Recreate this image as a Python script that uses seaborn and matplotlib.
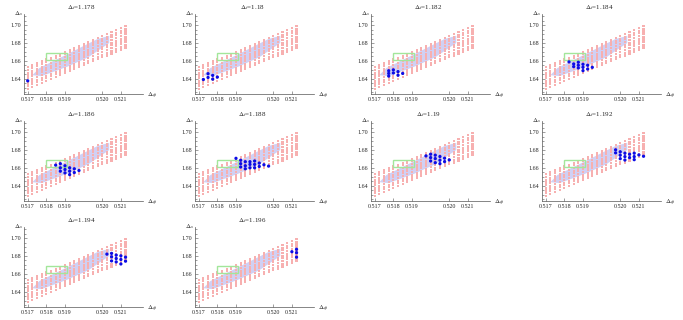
import matplotlib
matplotlib.use("Agg")
import matplotlib.pyplot as plt
import seaborn as sns
import numpy as np
import pandas as pd

# panel values of Delta_t
dt_labels = ["1.178", "1.18", "1.182", "1.184", "1.186",
             "1.188", "1.19", "1.192", "1.194", "1.196"]

# scanned grid (red): one column per Delta_phi, points stepped in Delta_s
dphi_cols = [0.5170, 0.5172, 0.5174, 0.5176, 0.5178, 0.5180, 0.5182, 0.5184,
             0.5186, 0.5188, 0.5190, 0.5192, 0.5194, 0.5196, 0.5198, 0.5200,
             0.5202, 0.5204, 0.5206, 0.5208, 0.5210, 0.5212]
ds_col_bottom = [1.6287, 1.6309, 1.6331, 1.6353, 1.6375, 1.6397, 1.6419, 1.6441,
                 1.6463, 1.6485, 1.6507, 1.6529, 1.6551, 1.6573, 1.6595, 1.6617,
                 1.6639, 1.6661, 1.6683, 1.6705, 1.6727, 1.6749]
n_per_col = 9
ds_step = 0.003

# lavender band
band_dphi = [0.5172, 0.5175, 0.5187, 0.5200, 0.5205, 0.5205, 0.5196, 0.5187, 0.5176]
band_ds = [1.6440, 1.6520, 1.6675, 1.6845, 1.6880, 1.6800, 1.6640, 1.6535, 1.6430]

# green box
box_dphi = [0.5178, 0.5187]
box_ds = [1.661, 1.669]

# allowed points (blue), long form
allowed_dt = (["1.178"] +
              ["1.18"] * 6 +
              ["1.182"] * 8 +
              ["1.184"] * 12 +
              ["1.186"] * 13 +
              ["1.188"] * 17 +
              ["1.19"] * 13 +
              ["1.192"] * 15 +
              ["1.194"] * 12 +
              ["1.196"] * 4)
allowed_dphi = ([0.5170] +
                [0.5172, 0.5174, 0.5174, 0.5176, 0.5176, 0.5178] +
                [0.5176, 0.5176, 0.5176, 0.5178, 0.5178, 0.5180, 0.5180, 0.5182] +
                [0.5180, 0.5182, 0.5182, 0.5184, 0.5184, 0.5184, 0.5186, 0.5186, 0.5186, 0.5188, 0.5188, 0.5190] +
                [0.5182, 0.5184, 0.5184, 0.5184, 0.5186, 0.5186, 0.5186, 0.5188, 0.5188, 0.5188, 0.5190, 0.5190, 0.5192] +
                [0.5186, 0.5188, 0.5188, 0.5188, 0.5190, 0.5190, 0.5190, 0.5192, 0.5192, 0.5192, 0.5194, 0.5194, 0.5194,
                 0.5196, 0.5196, 0.5198, 0.5200] +
                [0.5192, 0.5194, 0.5194, 0.5194, 0.5196, 0.5196, 0.5196, 0.5198, 0.5198, 0.5198, 0.5200, 0.5200, 0.5202] +
                [0.5200, 0.5200, 0.5202, 0.5202, 0.5202, 0.5204, 0.5204, 0.5204, 0.5206, 0.5206, 0.5208, 0.5208, 0.5208,
                 0.5210, 0.5212] +
                [0.5204, 0.5206, 0.5206, 0.5206, 0.5208, 0.5208, 0.5208, 0.5210, 0.5210, 0.5210, 0.5212, 0.5212] +
                [0.5210, 0.5212, 0.5212, 0.5212])
allowed_ds = ([1.6377] +
              [1.6392, 1.6457, 1.6415, 1.6438, 1.6396, 1.6419] +
              [1.6490, 1.6460, 1.6430, 1.6500, 1.6465, 1.6480, 1.6440, 1.6460] +
              [1.6589, 1.6566, 1.6536, 1.6585, 1.6551, 1.6521, 1.6562, 1.6528, 1.6491, 1.6551, 1.6509, 1.6528] +
              [1.6631, 1.6647, 1.6601, 1.6563, 1.6624, 1.6582, 1.6544, 1.6601, 1.6563, 1.6525, 1.6590, 1.6548, 1.6571] +
              [1.6707, 1.6685, 1.6647, 1.6610, 1.6669, 1.6624, 1.6590, 1.6669, 1.6639, 1.6601, 1.6677, 1.6639, 1.6601,
               1.6654, 1.6616, 1.6635, 1.6620] +
              [1.6734, 1.6753, 1.6715, 1.6677, 1.6742, 1.6704, 1.6658, 1.6727, 1.6685, 1.6647, 1.6708, 1.6670, 1.6689] +
              [1.6802, 1.6768, 1.6780, 1.6742, 1.6703, 1.6764, 1.6726, 1.6688, 1.6753, 1.6715, 1.6764, 1.6726, 1.6692,
               1.6745, 1.6730] +
              [1.6821, 1.6829, 1.6791, 1.6745, 1.6810, 1.6772, 1.6734, 1.6802, 1.6761, 1.6711, 1.6787, 1.6742] +
              [1.6848, 1.6875, 1.6837, 1.6787])

# tick marks sit where the reference draws them (uneven spacing there)
x_tick_pos = [0.5170, 0.5178, 0.5186, 0.5202, 0.5210]
x_tick_labels = ["0.517", "0.518", "0.519", "0.520", "0.521"]
y_ticks = [1.64, 1.66, 1.68, 1.70]

# red grid table
grid_phi, grid_s = [], []
for phi, s0 in zip(dphi_cols, ds_col_bottom):
    for k in range(n_per_col):
        grid_phi.append(phi)
        grid_s.append(s0 + k * ds_step)
grid = pd.DataFrame({"dphi": grid_phi, "ds": grid_s})
allowed = pd.DataFrame({"dt": allowed_dt, "dphi": allowed_dphi, "ds": allowed_ds})

sns.set_style("ticks")
plt.rcParams["font.family"] = ["Liberation Serif", "DejaVu Serif"]
plt.rcParams["mathtext.fontset"] = "stix"

W, H = 683, 320
fig = plt.figure(figsize=(W / 100, H / 100), dpi=100)

col_left = [24, 195, 371, 542]
row_bottom = [94, 201, 307]
ax_w, ax_h = 119, 80

for i, lab in enumerate(dt_labels):
    r, c = divmod(i, 4)
    ax = fig.add_axes([col_left[c] / W, 1 - row_bottom[r] / H, ax_w / W, ax_h / H])

    ax.fill(band_dphi, band_ds, color="#d0d0f4", lw=0, zorder=1)
    sns.scatterplot(data=grid, x="dphi", y="ds", ax=ax, marker="s", s=2.4,
                    color="#f7b0b0", edgecolor="none", zorder=2, legend=False)
    ax.add_patch(plt.Rectangle((box_dphi[0], box_ds[0]), box_dphi[1] - box_dphi[0],
                               box_ds[1] - box_ds[0], fill=False, ec="#a3e69a",
                               lw=1.0, zorder=3))
    sub = allowed[allowed["dt"] == lab]
    sns.scatterplot(data=sub, x="dphi", y="ds", ax=ax, marker="o", s=5.5,
                    color="#0c0ce6", edgecolor="none", zorder=4, legend=False)

    ax.set_xlim(0.51684, 0.52195)
    ax.set_ylim(1.623, 1.7124)
    ax.set_xticks(x_tick_pos)
    ax.set_xticklabels(x_tick_labels)
    ax.set_yticks(y_ticks)
    ax.set_yticklabels([f"{v:.2f}" for v in y_ticks])
    ax.set_yticks(np.arange(1.625, 1.711, 0.005), minor=True)
    ax.tick_params(which="both", direction="in", labelsize=4.3, color="#555555", width=0.4, pad=2)
    ax.tick_params(which="major", length=2.5)
    ax.tick_params(which="minor", length=1.2)
    for side in ["top", "right"]:
        ax.spines[side].set_visible(False)
    for side in ["left", "bottom"]:
        ax.spines[side].set_linewidth(0.5)
        ax.spines[side].set_color("#555555")
    ax.set_xlabel("")
    ax.set_ylabel("")
    ax.text(-0.01, 1.0, r"$\Delta_s$", transform=ax.transAxes, ha="right", va="center", fontsize=5)
    ax.text(1.03, -0.02, r"$\Delta_\phi$", transform=ax.transAxes, ha="left", va="center", fontsize=5)
    ax.text(0.48, 1.08, r"$\Delta_t$=" + lab, transform=ax.transAxes, ha="center", va="center", fontsize=5)

fig.savefig("out.png", dpi=100)
